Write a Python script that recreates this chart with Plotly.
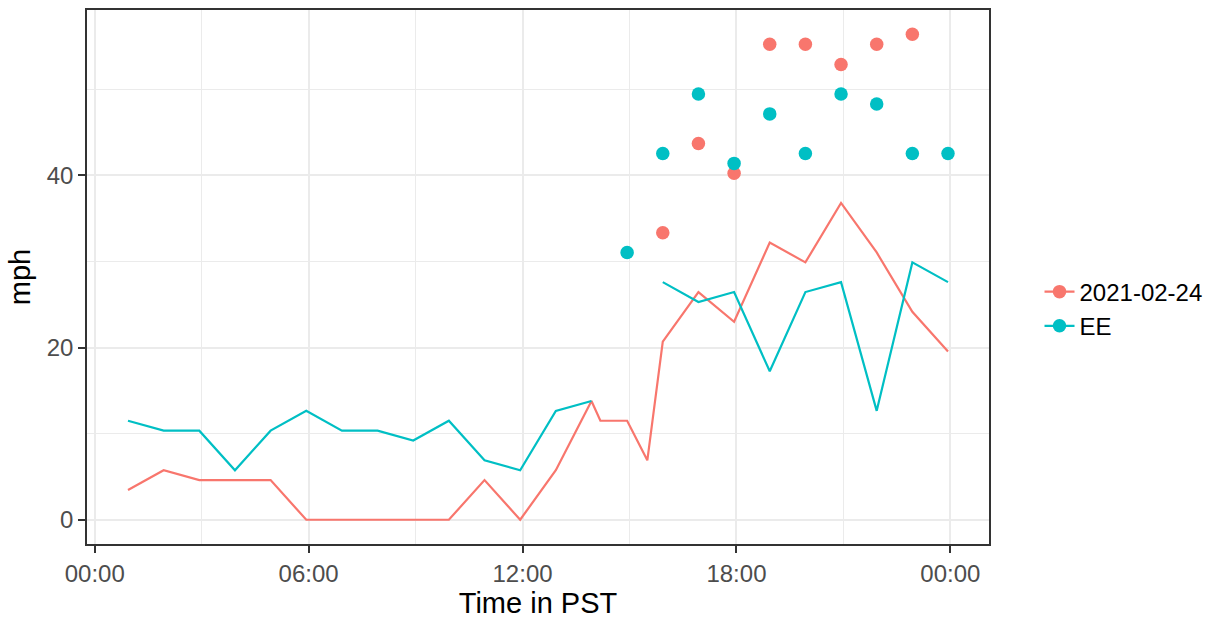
import plotly.graph_objects as go
import pandas as pd

# ---------------- data ----------------
day = "2021-02-24"
series_names = ["2021-02-24", "EE"]
series_colors = ["#F8766D", "#00BFC4"]

hourly_times = ["00:56", "01:56", "02:56", "03:56", "04:56", "05:56", "06:56", "07:56",
                "08:56", "09:56", "10:56", "11:56", "12:56", "13:56", "14:56", "15:56",
                "16:56", "17:56", "18:56", "19:56", "20:56", "21:56", "22:56", "23:56"]

red_line_times = ["00:56", "01:56", "02:56", "03:56", "04:56", "05:56", "06:56", "07:56",
                  "08:56", "09:56", "10:56", "11:56", "12:56", "13:56", "14:11", "14:56",
                  "15:30", "15:56", "16:56", "17:56", "18:56", "19:56", "20:56", "21:56",
                  "22:56", "23:56"]
red_line_mph = [3.45, 5.75, 4.6, 4.6, 4.6, 0, 0, 0,
                0, 0, 4.6, 0, 5.75, 13.8, 11.5, 11.5,
                6.9, 20.7, 26.45, 23.0, 32.2, 29.9, 36.8, 31.05,
                24.15, 19.55]

red_gust_times = ["15:56", "16:56", "17:56", "18:56", "19:56", "20:56", "21:56", "22:56"]
red_gust_mph = [33.35, 43.7, 40.25, 55.25, 55.25, 52.9, 55.25, 56.4]

teal_line_times = hourly_times
teal_line_mph = [11.5, 10.35, 10.35, 5.75, 10.35, 12.65, 10.35, 10.35,
                 9.2, 11.5, 6.9, 5.75, 12.65, 13.8, None, 27.6,
                 25.3, 26.45, 17.25, 26.45, 27.6, 12.65, 29.9, 27.6]

teal_gust_times = ["14:56", "15:56", "16:56", "17:56", "18:56", "19:56", "20:56", "21:56",
                   "22:56", "23:56"]
teal_gust_mph = [31.05, 42.55, 49.45, 41.4, 47.15, 42.55, 49.45, 48.3, 42.55, 42.55]

x_tick_text = ["00:00", "06:00", "12:00", "18:00", "00:00"]
y_tick_vals = [0, 20, 40]

# ---------------- build ----------------
def ts(times):
    return pd.to_datetime([f"{day} {t}" for t in times])

lines = [(ts(red_line_times), red_line_mph), (ts(teal_line_times), teal_line_mph)]
gusts = [(ts(red_gust_times), red_gust_mph), (ts(teal_gust_times), teal_gust_mph)]

FONT = "Liberation Sans, Arial, Helvetica, sans-serif"
fig = go.Figure()

for (x, y), c in zip(lines, series_colors):
    fig.add_trace(go.Scatter(x=x, y=y, mode="lines", line=dict(color=c, width=2.2),
                             connectgaps=False, showlegend=False, hoverinfo="skip"))
for (x, y), c in zip(gusts, series_colors):
    fig.add_trace(go.Scatter(x=x, y=y, mode="markers", marker=dict(color=c, size=13.5),
                             showlegend=False))
# legend entries (line + point keys)
for name, c in zip(series_names, series_colors):
    fig.add_trace(go.Scatter(x=[None], y=[None], mode="lines+markers", name=name,
                             line=dict(color=c, width=2.2), marker=dict(color=c, size=13.5)))

# axis ranges with 5% expansion (ggplot default)
all_x = pd.DatetimeIndex(list(lines[0][0]) + list(lines[1][0]) + list(gusts[0][0]) + list(gusts[1][0]))
xmin, xmax = all_x.min(), all_x.max()
xpad = (xmax - xmin) * 0.05
all_y = [v for _, ys in lines + gusts for v in ys if v is not None]
ymin, ymax = min(all_y), max(all_y)
ypad = (ymax - ymin) * 0.05

tick_vals = pd.date_range(f"{day} 00:00", periods=5, freq="6h")

fig.update_layout(
    width=1220, height=620,
    margin=dict(l=87, r=231, t=8, b=75),
    paper_bgcolor="white", plot_bgcolor="white",
    font=dict(family=FONT, color="black"),
    showlegend=True,
    legend=dict(x=1.056, xanchor="left", y=0.44, yanchor="middle",
                font=dict(size=24, color="black"), bgcolor="rgba(0,0,0,0)",
                tracegroupgap=0, itemwidth=30),
    xaxis=dict(
        range=[xmin - xpad, xmax + xpad], type="date",
        tickvals=tick_vals, ticktext=x_tick_text,
        tickfont=dict(size=24, color="#4D4D4D"),
        ticks="outside", ticklen=7, tickwidth=2, tickcolor="#333333",
        showgrid=True, gridcolor="#EBEBEB", gridwidth=2,
        minor=dict(showgrid=True, gridcolor="#EBEBEB", gridwidth=1.2,
                   tickvals=pd.date_range(f"{day} 03:00", periods=4, freq="6h")),
        showline=True, mirror=True, linecolor="#333333", linewidth=1.5,
        zeroline=False,
        title=dict(text="Time in PST", font=dict(size=29, color="black"), standoff=5),
    ),
    yaxis=dict(
        range=[ymin - ypad, ymax + ypad],
        tickvals=y_tick_vals,
        tickfont=dict(size=24, color="#4D4D4D"),
        ticks="outside", ticklen=7, tickwidth=2, tickcolor="#333333",
        showgrid=True, gridcolor="#EBEBEB", gridwidth=2,
        minor=dict(showgrid=True, gridcolor="#EBEBEB", gridwidth=1.2, tickvals=[10, 30, 50]),
        showline=True, mirror=True, linecolor="#333333", linewidth=1.5,
        zeroline=False,
        title=dict(text="mph", font=dict(size=29, color="black"), standoff=8),
    ),
)

fig.write_html("out.html", config={"displayModeBar": False},
               post_script="document.body.style.margin='0';document.body.style.overflow='hidden';")
